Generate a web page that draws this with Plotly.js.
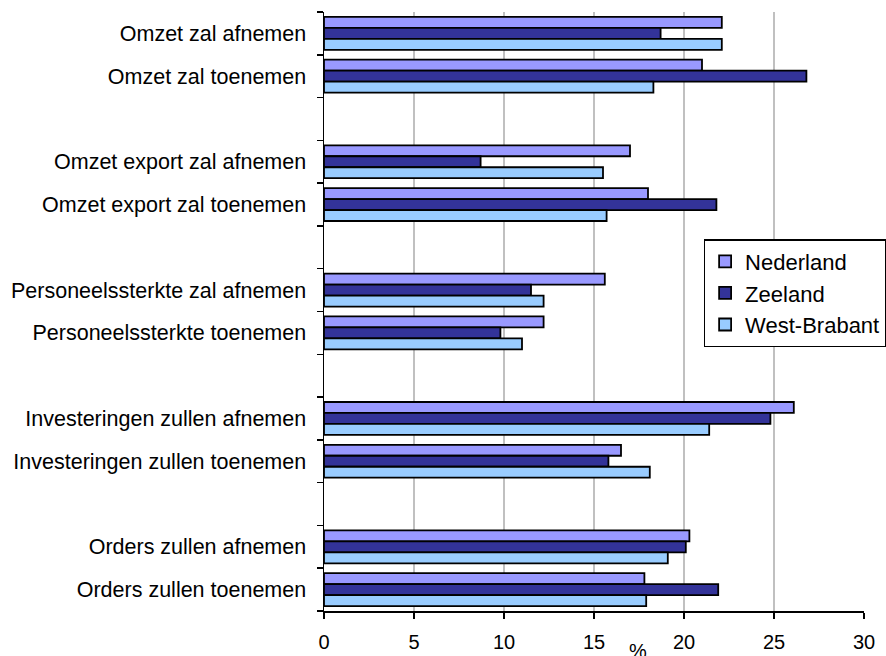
<!DOCTYPE html>
<html>
<head>
<meta charset="utf-8">
<script src="https://cdn.plot.ly/plotly-3.0.1.min.js"></script>
<style>html,body{margin:0;padding:0;background:#fff;}#chart{width:886px;height:656px;}</style>
</head>
<body>
<div id="chart"></div>
<script>
// Categories top to bottom (groups of two, gaps between groups)
var categories = [
  "Omzet zal afnemen", "Omzet zal toenemen",
  "Omzet export zal afnemen", "Omzet export zal toenemen",
  "Personeelssterkte zal afnemen", "Personeelssterkte toenemen",
  "Investeringen zullen afnemen", "Investeringen zullen toenemen",
  "Orders zullen afnemen", "Orders zullen toenemen"
];
var nederland   = [22.1, 21.0, 17.0, 18.0, 15.6, 12.2, 26.1, 16.5, 20.3, 17.8];
var zeeland     = [18.7, 26.8,  8.7, 21.8, 11.5,  9.8, 24.8, 15.8, 20.1, 21.9];
var westBrabant = [22.1, 18.3, 15.5, 15.7, 12.2, 11.0, 21.4, 18.1, 19.1, 17.9];
var seriesNames = ["Nederland", "Zeeland", "West-Brabant"];
var xTicks = [0, 5, 10, 15, 20, 25, 30];

// slot positions: two categories per group, one empty slot between groups
var pos = categories.map(function(c, i){ return i + Math.floor(i / 2); });
var nSlots = pos[pos.length - 1] + 1;
var bounds = [];
for (var b = 0; b <= nSlots; b++) bounds.push(b - 0.5);

var colors = ["#9999FF", "#333399", "#99CCFF"];
var data = [nederland, zeeland, westBrabant].map(function(vals, k){
  return {
    type: "bar", orientation: "h", name: seriesNames[k],
    x: vals, y: pos,
    marker: {color: colors[k], line: {color: "#000", width: 1.8}},
    hoverinfo: "x+name"
  };
});

var layout = {
  width: 886, height: 656,
  margin: {l: 324, r: 22, t: 12, b: 45, autoexpand: false},
  paper_bgcolor: "#fff", plot_bgcolor: "#fff",
  font: {family: "Liberation Sans, Arial, sans-serif", size: 20, color: "#000"},
  barmode: "group", bargap: 0.23, bargroupgap: 0,
  showlegend: true,
  legend: {
    x: 0.703, y: 0.621, xanchor: "left", yanchor: "top",
    bgcolor: "#fff", bordercolor: "#000", borderwidth: 1.5,
    font: {size: 22}, traceorder: "normal", itemwidth: 30
  },
  xaxis: {
    range: [0, 30], tickvals: xTicks, ticktext: xTicks.map(String),
    showgrid: true, gridcolor: "#c0c0c0", gridwidth: 2,
    showline: true, linecolor: "#000", linewidth: 1.5,
    ticks: "outside", ticklen: 6, tickwidth: 1.5, tickcolor: "#000",
    zeroline: false, tickfont: {size: 20}, ticklabelstandoff: 6
  },
  yaxis: {
    range: [nSlots - 0.5, -0.5],
    tickmode: "array", tickvals: pos, ticktext: categories,
    ticks: "", showgrid: false, zeroline: false,
    showline: true, linecolor: "#000", linewidth: 1.5,
    tickfont: {size: 21.5}, ticklabelstandoff: 12,
    minor: {tickmode: "array", tickvals: bounds, ticks: "outside", ticklen: 6, tickwidth: 1.5, tickcolor: "#000", showgrid: false}
  },
  annotations: [
    {text: "%", xref: "paper", yref: "paper", x: 0.581, y: -0.066, xanchor: "center", yanchor: "middle", showarrow: false, font: {size: 20}},
    {text: "Verwachting", xref: "paper", yref: "paper", x: -0.37, y: 1.038, xanchor: "right", yanchor: "bottom", showarrow: false, font: {size: 21.5}}
  ]
};

Plotly.newPlot("chart", data, layout, {displayModeBar: false, staticPlot: true});
</script>
</body>
</html>
